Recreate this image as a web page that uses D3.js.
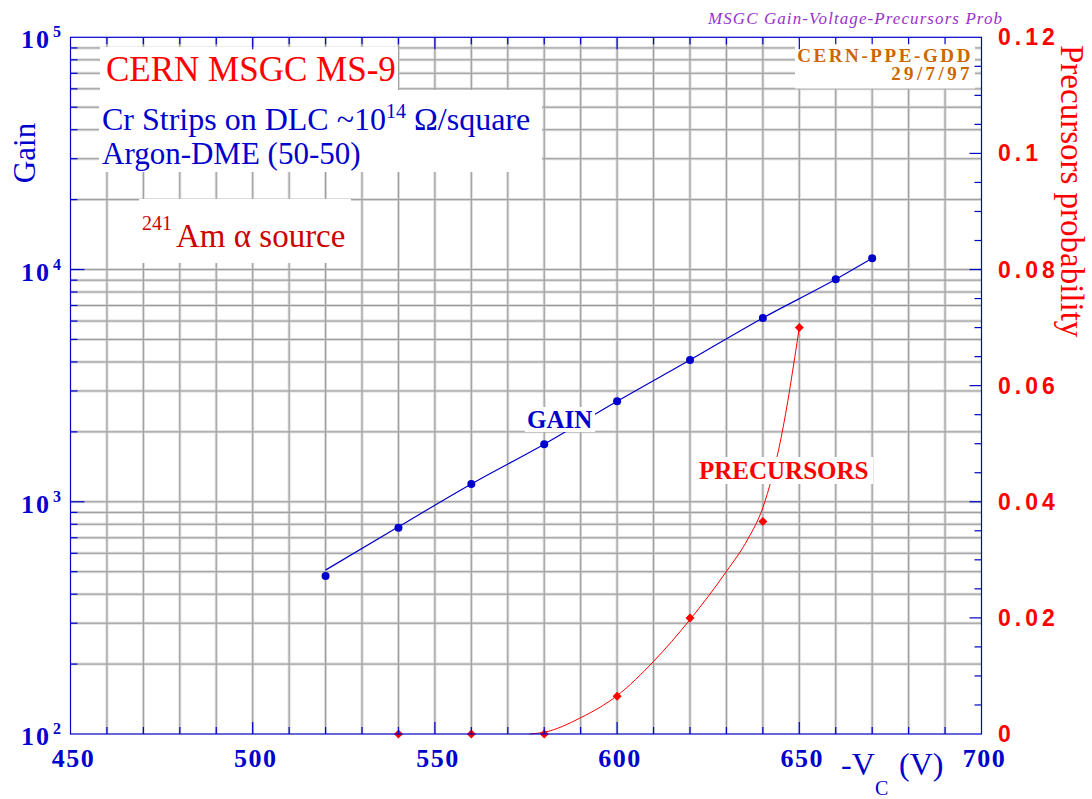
<!DOCTYPE html>
<html>
<head>
<meta charset="utf-8">
<script src="https://cdn.jsdelivr.net/npm/d3@7"></script>
<style>
  html, body { margin: 0; padding: 0; background: #fff; }
  svg { display: block; }
  text { font-family: "Liberation Serif", "Times New Roman", serif; }
</style>
</head>
<body>
<div id="chart"></div>
<script>
var gainVoltage = [520, 540, 560, 580, 600, 620, 640, 660, 670];
var gainValue   = [479, 773, 1193, 1769, 2709, 4079, 6188, 9083, 11190];
// blue fitted line, read at the same voltages
var gainLineValue = [508, 780, 1193, 1769, 2709, 4079, 6188, 9083, 11190];

// Precursor probability measurements (red diamonds)
var precVoltage = [540, 560, 580, 600, 620, 640, 650];
var precValue   = [0, 0, 0, 0.0065, 0.020, 0.0366, 0.070];

// Red curve drawn through the precursor points
var precCurveVoltage = [576, 580, 590, 600, 610, 620, 630, 636, 640, 645, 650];
var precCurveValue   = [0, 0.0003, 0.0028, 0.0066, 0.0125, 0.0197, 0.028, 0.0337, 0.039, 0.051, 0.070];

// Tick labels
var xTicks = [450, 500, 550, 600, 650, 700];
var gainDecades = [2, 3, 4, 5];
var probTicks = [0, 0.02, 0.04, 0.06, 0.08, 0.1, 0.12];
var probTickLabels = ["0", "0.02", "0.04", "0.06", "0.08", "0.1", "0.12"];

(function() {
var W = 1092, H = 799;
var margin = {top: 37.3, right: 110.5, bottom: 65, left: 70.5};
var pL = margin.left, pR = W - margin.right, pT = margin.top, pB = H - margin.bottom;

var blue = "#0000cc", red = "#ff0000";
var serif = "'Liberation Serif', 'Times New Roman', serif";

var svg = d3.select("#chart").append("svg")
	.attr("width", W)
	.attr("height", H);

var x = d3.scaleLinear().domain([450, 700]).range([pL, pR]);
var y = d3.scaleLog().domain([100, 100000]).range([pB, pT]);
var yr = d3.scaleLinear().domain([0, 0.12]).range([pB, pT]);

// grid values
var xGrid = d3.range(460, 700, 10);
var yGrid = [];
[100, 1000, 10000].forEach(function(d) {
	for (var k = 1; k < 10; k++) yGrid.push(d * k);
});
yGrid = yGrid.filter(function(d) { return d > 100; });

var grid = svg.append("g");
// soft halo under each grid line
grid.selectAll(".vh").data(xGrid).enter().append("line")
	.attr("x1", function(d) { return x(d); }).attr("x2", function(d) { return x(d); })
	.attr("y1", pT).attr("y2", pB)
	.style("stroke", "#dcdcdc").style("stroke-width", 3);
grid.selectAll(".hh").data(yGrid).enter().append("line")
	.attr("x1", pL).attr("x2", pR)
	.attr("y1", function(d) { return y(d); }).attr("y2", function(d) { return y(d); })
	.style("stroke", "#dcdcdc").style("stroke-width", 3);
grid.selectAll(".v").data(xGrid).enter().append("line")
	.attr("x1", function(d) { return x(d); }).attr("x2", function(d) { return x(d); })
	.attr("y1", pT).attr("y2", pB)
	.style("stroke", "#9a9a9a").style("stroke-width", 1);
grid.selectAll(".h").data(yGrid).enter().append("line")
	.attr("x1", pL).attr("x2", pR)
	.attr("y1", function(d) { return y(d); }).attr("y2", function(d) { return y(d); })
	.style("stroke", "#9a9a9a").style("stroke-width", 1);

// data: gain
var gainData = gainVoltage.map(function(v, i) { return [v, gainValue[i]]; });
var gainLine = gainVoltage.map(function(v, i) { return [v, gainLineValue[i]]; });
svg.append("path")
	.datum(gainLine)
	.attr("d", d3.line()
		.x(function(d) { return x(d[0]); })
		.y(function(d) { return y(d[1]); })
		.curve(d3.curveMonotoneX))
	.style("fill", "none").style("stroke", blue).style("stroke-width", 1.2);
svg.selectAll(".gp").data(gainData).enter().append("circle")
	.attr("cx", function(d) { return x(d[0]); })
	.attr("cy", function(d) { return y(d[1]); })
	.attr("r", 4)
	.style("fill", blue);

// data: precursors
var curveData = precCurveVoltage.map(function(v, i) { return [v, precCurveValue[i]]; });
svg.append("path")
	.datum(curveData)
	.attr("d", d3.line()
		.x(function(d) { return x(d[0]); })
		.y(function(d) { return yr(d[1]); })
		.curve(d3.curveMonotoneX))
	.style("fill", "none").style("stroke", red).style("stroke-width", 1);
var precData = precVoltage.map(function(v, i) { return [v, precValue[i]]; });
svg.selectAll(".pp").data(precData).enter().append("path")
	.attr("transform", function(d) { return "translate(" + x(d[0]) + "," + yr(d[1]) + ")"; })
	.attr("d", "M0,-4.5L4.5,0L0,4.5L-4.5,0Z")
	.style("fill", red);

// white label boxes
var boxes = [
	[100, 47, 298, 43],
	[99, 90, 443, 82],
	[139, 199, 212, 64],
	[525, 407, 70, 25],
	[696, 457, 177, 27],
	[795, 38.5, 180, 50]
];
svg.selectAll(".box").data(boxes).enter().append("rect")
	.attr("x", function(d) { return d[0]; })
	.attr("y", function(d) { return d[1]; })
	.attr("width", function(d) { return d[2]; })
	.attr("height", function(d) { return d[3]; })
	.style("fill", "#fff");

// frame and ticks
var axes = svg.append("g").style("stroke", blue).style("stroke-width", 1.2);
axes.append("rect")
	.attr("x", pL).attr("y", pT)
	.attr("width", pR - pL).attr("height", pB - pT)
	.style("fill", "none");
var xTickAll = d3.range(460, 700, 10);
axes.selectAll(".xb").data(xTickAll).enter().append("line")
	.attr("x1", function(d) { return x(d); }).attr("x2", function(d) { return x(d); })
	.attr("y1", pB).attr("y2", function(d) { return pB - (d % 50 === 0 ? 12 : 7); });
axes.selectAll(".xt").data(xTickAll).enter().append("line")
	.attr("x1", function(d) { return x(d); }).attr("x2", function(d) { return x(d); })
	.attr("y1", pT).attr("y2", function(d) { return pT + (d % 50 === 0 ? 12 : 7); });
axes.selectAll(".yl").data(yGrid).enter().append("line")
	.attr("x1", pL).attr("x2", function(d) { return pL + (String(d)[0] === "1" ? 14 : 7); })
	.attr("y1", function(d) { return y(d); }).attr("y2", function(d) { return y(d); });
var rTicks = d3.range(0.005, 0.12, 0.005);
axes.selectAll(".yr").data(rTicks).enter().append("line")
	.attr("x1", pR).attr("x2", function(d, i) { return pR - ((i + 1) % 4 === 0 ? 12 : 7); })
	.attr("y1", function(d) { return yr(d); }).attr("y2", function(d) { return yr(d); });

// x tick labels
svg.selectAll(".xl").data(xTicks).enter().append("text")
	.attr("x", function(d) { return x(d) + 3; })
	.attr("y", 767)
	.attr("text-anchor", "middle")
	.style("font-size", "26px").style("font-weight", "bold")
	.style("letter-spacing", "1.5px")
	.style("fill", blue)
	.text(function(d) { return d; });

// left log tick labels
var yl = svg.selectAll(".ylab").data(gainDecades).enter().append("g")
	.attr("transform", function(d) { return "translate(0," + y(Math.pow(10, d)) + ")"; });
yl.append("text")
	.attr("x", 51).attr("y", 11)
	.attr("text-anchor", "end")
	.style("font-size", "26px").style("font-weight", "bold")
	.style("letter-spacing", "2px")
	.style("fill", blue)
	.text("10");
yl.append("text")
	.attr("x", 53).attr("y", 0)
	.style("font-size", "16px").style("font-weight", "bold")
	.style("fill", blue)
	.text(function(d) { return d; });

// right tick labels
svg.selectAll(".rl").data(probTicks).enter().append("text")
	.attr("x", 998)
	.attr("y", function(d) { return yr(d) + 8; })
	.style("font-family", "'Liberation Sans', Arial, sans-serif")
	.style("font-size", "23px").style("font-weight", "bold")
	.style("letter-spacing", "4px")
	.style("fill", red)
	.text(function(d, i) { return probTickLabels[i]; });

// axis titles
svg.append("text")
	.attr("transform", "translate(35,153) rotate(-90)")
	.attr("text-anchor", "middle")
	.style("font-family", serif)
	.style("font-size", "31px").style("fill", blue)
	.text("Gain");
svg.append("text")
	.attr("transform", "translate(1061,45) rotate(90)")
	.attr("text-anchor", "start")
	.style("font-family", serif)
	.style("font-size", "33px").style("fill", red)
	.text("Precursors probability");
var xt = svg.append("text").style("fill", blue).style("font-size", "32px");
xt.append("tspan").attr("x", 841).attr("y", 775).text("-V");
xt.append("tspan").attr("x", 875).attr("y", 795).style("font-size", "20px").text("C");
xt.append("tspan").attr("x", 899).attr("y", 775).text("(V)");

// top title
svg.append("text")
	.attr("x", 708).attr("y", 24)
	.attr("textLength", 294)
	.style("font-size", "17px").style("font-style", "italic")
	.style("fill", "#9933cc")
	.text("MSGC  Gain-Voltage-Precursors  Prob");

// date stamp
svg.append("text")
	.attr("x", 973).attr("y", 62)
	.attr("text-anchor", "end")
	.style("font-size", "19px").style("font-weight", "bold")
	.style("letter-spacing", "2.6px")
	.style("fill", "#cc6600")
	.text("CERN-PPE-GDD");
svg.append("text")
	.attr("x", 973).attr("y", 80)
	.attr("text-anchor", "end")
	.style("font-size", "19px").style("font-weight", "bold")
	.style("letter-spacing", "3.4px")
	.style("fill", "#cc6600")
	.text("29/7/97");

// annotation texts
svg.append("text")
	.attr("x", 106).attr("y", 81)
	.style("font-size", "35px").style("fill", red)
	.text("CERN MSGC MS-9");
var cr = svg.append("text").attr("x", 102).attr("y", 130)
	.style("font-size", "32px").style("fill", blue);
cr.append("tspan").text("Cr Strips on DLC ~10");
cr.append("tspan").attr("dy", -12).style("font-size", "20px").text("14");
cr.append("tspan").attr("dy", 12).text(" \u03A9/square");
svg.append("text")
	.attr("x", 102).attr("y", 164)
	.style("font-size", "31px").style("fill", blue)
	.text("Argon-DME (50-50)");
var am = svg.append("text").attr("x", 142).attr("y", 247)
	.style("fill", "#cc0000").style("font-size", "33px");
am.append("tspan").attr("dy", -17).style("font-size", "20px").text("241");
am.append("tspan").attr("dy", 17).attr("dx", 4).text("Am \u03B1 source");

svg.append("text")
	.attr("x", 527).attr("y", 428)
	.style("font-size", "25px").style("font-weight", "bold")
	.style("fill", blue)
	.text("GAIN");
svg.append("text")
	.attr("x", 699).attr("y", 479)
	.style("font-size", "25px").style("font-weight", "bold")
	.style("fill", red)
	.text("PRECURSORS");
})();
</script>
</body>
</html>
